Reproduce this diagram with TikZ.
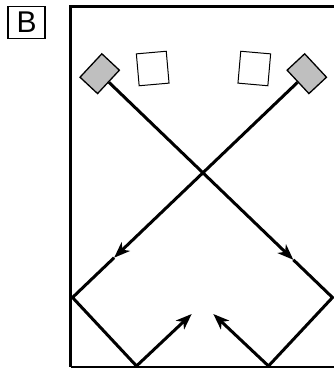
\documentclass[tikz,border=0pt]{standalone}
\usepackage{fontspec}
\setmainfont{Liberation Sans}
\usetikzlibrary{arrows.meta,calc}
\begin{document}
\begin{tikzpicture}[x=1bp,y=1bp,
  wall/.style={line width=3bp, line join=miter},
  ray/.style={line width=3bp, line join=miter},
  tip/.style={-{Stealth[length=16bp,width=12bp,inset=4.5bp]}},
  speaker/.style={draw, line width=1.3bp, fill=black!25, minimum width=24bp, minimum height=32bp, inner sep=0pt},
  listener/.style={draw, line width=1bp, fill=white, minimum width=30bp, minimum height=32bp, inner sep=0pt},
  labelbox/.style={draw, line width=1.7bp, minimum width=37bp, minimum height=32bp, inner sep=0pt}
]
\useasboundingbox (0,0) rectangle (334,368);
% label
\node[labelbox] (lab) at (26.6,345.5) {\fontsize{30bp}{30bp}\selectfont B};
% room walls
\coordinate (tw) at (334,361.3);
\coordinate (tl) at (70.5,361.3);
\coordinate (bl) at (70.5,1.2);
\coordinate (bw) at (334,1.2);
\draw[wall] (tw) -- (tl) -- (bl);
\draw[line width=2.4bp] (bl) -- (bw);
% speakers and listeners
\node[speaker, rotate=-43] (spkL) at (99.7,294.3) {};
\node[speaker, rotate=43] (spkR) at (306.8,294.3) {};
\node[listener, rotate=5] (lisL) at (152.7,299.5) {};
\node[listener, rotate=-5] (lisR) at (254.3,299.5) {};
% reflection points
\coordinate (L1) at (72.5,70.5);
\coordinate (R1) at (332.5,70.5);
\coordinate (BL) at (136.5,2);
\coordinate (BR) at (268.5,2);
\coordinate (tipL) at (191.7,54);
\coordinate (tipR) at (213.3,54);
\coordinate (aL) at ($(spkR.west)!0.815!(L1)$);
\coordinate (aR) at ($(spkL.east)!0.825!(R1)$);
% rays
\draw[ray, tip] (spkR.west) -- (aL);
\draw[ray, tip] (aL) -- (L1) -- (BL) -- (tipL);
\draw[ray, tip] (spkL.east) -- (aR);
\draw[ray, tip] (aR) -- (R1) -- (BR) -- (tipR);
\end{tikzpicture}
\end{document}
